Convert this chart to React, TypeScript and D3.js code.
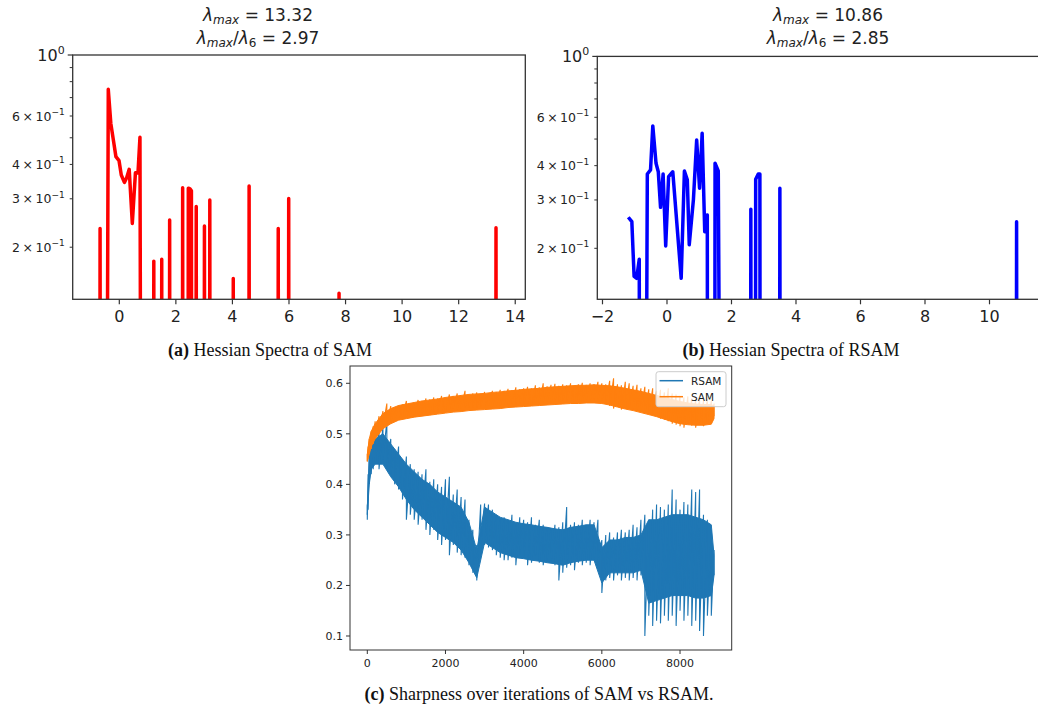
import React from 'react';
import * as d3 from 'd3';

// density below the plotted floor, the line drops out of the axes there
const TINY = 1e-4;

// (a) SAM Hessian spectrum, eigenvalue vs density
const samEig = [
  -0.71, -0.68, -0.65,
  -0.52, -0.39, -0.30, -0.21, -0.12, -0.01, 0.07, 0.18, 0.26, 0.35, 0.46, 0.57, 0.66, 0.73, 0.82,
  1.19, 1.22, 1.25, 1.47, 1.50, 1.53, 1.75, 1.78, 1.81,
  2.21, 2.24, 2.27, 2.41, 2.44, 2.50, 2.55, 2.58, 2.69, 2.72, 2.75,
  2.98, 3.01, 3.04, 3.17, 3.20, 3.23, 4.00, 4.03, 4.06, 4.56, 4.59, 4.62,
  5.59, 5.62, 5.65, 5.96, 5.99, 6.02, 7.74, 7.77, 7.80, 13.29, 13.32, 13.35,
];
const samDensity = [
  TINY, 0.234, TINY,
  TINY, 0.75, 0.564, 0.491, 0.427, 0.413, 0.366, 0.344, 0.358, 0.384, 0.244, 0.373, 0.372, 0.502, TINY,
  TINY, 0.178, TINY, TINY, 0.181, TINY, TINY, 0.251, TINY,
  TINY, 0.329, TINY, TINY, 0.328, 0.326, 0.321, TINY, TINY, 0.281, TINY,
  TINY, 0.239, TINY, TINY, 0.297, TINY, TINY, 0.154, TINY, TINY, 0.334, TINY,
  TINY, 0.234, TINY, TINY, 0.301, TINY, TINY, 0.136, TINY, TINY, 0.2355, TINY,
];

// (b) RSAM Hessian spectrum
const rsamEig = [
  -1.20, -1.09, -1.02, -0.94, -0.86, -0.82, -0.74, -0.61, -0.51, -0.44, -0.34, -0.27, -0.20, -0.12, -0.04,
  0.05, 0.18, 0.44, 0.54, 0.63, 0.69, 0.82, 0.92, 1.01, 1.09, 1.17, 1.25, 1.27,
  1.46, 1.49, 1.59, 1.76, 2.57, 2.60, 2.63, 2.72, 2.75, 2.83, 2.88, 2.91,
  3.47, 3.50, 3.53, 10.81, 10.84, 10.87,
];
const rsamDensity = [
  0.2595, 0.25, 0.158, 0.1555, 0.1824, TINY, TINY, 0.373, 0.386, 0.558, 0.408, 0.38, 0.282, 0.373, 0.204,
  0.365, 0.38, 0.1555, 0.3825, 0.355, 0.206, 0.3016, 0.496, 0.331, 0.525, 0.23, 0.2645, TINY,
  TINY, 0.408, 0.383, TINY, TINY, 0.2775, TINY, TINY, 0.3567, 0.373, 0.373, TINY,
  TINY, 0.331, TINY, TINY, 0.25, TINY,
];

const ticksA = [0, 2, 4, 6, 8, 10, 12, 14];
const ticksB = [-2, 0, 2, 4, 6, 8, 10];
const logMinor = [0.2, 0.3, 0.4, 0.5, 0.6, 0.7, 0.8, 0.9];
const logLabeled = [0.2, 0.3, 0.4, 0.6];

// (c) sharpness over iterations: spike extremes every ~100 its
const peakIter = [
  0, 20, 50, 100, 150, 200,
  300, 400, 500, 600, 700, 800, 900, 1000, 1100, 1200,
  1300, 1400, 1500, 1600, 1700, 1800, 1900, 2000, 2100, 2200,
  2300, 2400, 2500, 2600, 2700, 2800, 2900, 3000, 3100, 3200,
  3300, 3400, 3500, 3600, 3700, 3800, 3900, 4000, 4100, 4200,
  4300, 4400, 4500, 4600, 4700, 4800, 4900, 5000, 5100, 5200,
  5300, 5400, 5500, 5600, 5700, 5800, 5900, 6000, 6100, 6200,
  6300, 6400, 6500, 6600, 6700, 6800, 6900, 7000, 7100, 7200,
  7300, 7400, 7500, 7600, 7700, 7800, 7900, 8000, 8100, 8200,
  8300, 8400, 8500, 8600, 8700, 8800, 8870,
];
const samHi = [
  0.46, 0.475, 0.49, 0.505, 0.515, 0.525,
  0.535, 0.545, 0.56, 0.555, 0.552, 0.556, 0.558, 0.565, 0.56, 0.562,
  0.567, 0.565, 0.57, 0.568, 0.572, 0.57, 0.575, 0.572, 0.578, 0.575,
  0.58, 0.576, 0.585, 0.578, 0.58, 0.582, 0.579, 0.583, 0.58, 0.585,
  0.583, 0.587, 0.585, 0.589, 0.586, 0.592, 0.588, 0.59, 0.593, 0.59,
  0.596, 0.592, 0.6, 0.594, 0.597, 0.599, 0.595, 0.598, 0.596, 0.6,
  0.595, 0.598, 0.601, 0.597, 0.6, 0.598, 0.603, 0.6, 0.598, 0.605,
  0.61, 0.598, 0.596, 0.603, 0.6, 0.595, 0.597, 0.59, 0.593, 0.588,
  0.59, 0.585, 0.587, 0.582, 0.59, 0.58, 0.578, 0.575, 0.572, 0.574,
  0.57, 0.568, 0.57, 0.565, 0.568, 0.565, 0.56,
];
const samLo = [
  0.445, 0.45, 0.46, 0.47, 0.48, 0.49,
  0.505, 0.515, 0.52, 0.525, 0.53, 0.532, 0.535, 0.535, 0.537, 0.538,
  0.54, 0.54, 0.542, 0.543, 0.545, 0.545, 0.546, 0.548, 0.548, 0.55,
  0.549, 0.55, 0.552, 0.553, 0.552, 0.553, 0.555, 0.553, 0.556, 0.555,
  0.557, 0.556, 0.558, 0.557, 0.56, 0.558, 0.56, 0.559, 0.56, 0.556,
  0.562, 0.56, 0.562, 0.563, 0.56, 0.564, 0.562, 0.565, 0.563, 0.566,
  0.564, 0.565, 0.563, 0.566, 0.565, 0.567, 0.566, 0.565, 0.562, 0.555,
  0.55, 0.555, 0.548, 0.552, 0.55, 0.548, 0.546, 0.545, 0.54, 0.538,
  0.537, 0.535, 0.53, 0.528, 0.525, 0.52, 0.518, 0.515, 0.512, 0.52,
  0.516, 0.512, 0.518, 0.515, 0.52, 0.525, 0.535,
];
const rsamHi = [
  0.36, 0.42, 0.46, 0.48, 0.5, 0.49,
  0.51, 0.515, 0.525, 0.49, 0.47, 0.475, 0.45, 0.455, 0.44, 0.43,
  0.425, 0.42, 0.43, 0.405, 0.41, 0.4, 0.395, 0.41, 0.415, 0.38,
  0.39, 0.375, 0.37, 0.33, 0.31, 0.28, 0.36, 0.362, 0.36, 0.35,
  0.34, 0.33, 0.335, 0.33, 0.34, 0.32, 0.335, 0.33, 0.325, 0.335,
  0.32, 0.33, 0.32, 0.315, 0.31, 0.32, 0.315, 0.325, 0.355, 0.32,
  0.325, 0.32, 0.33, 0.32, 0.33, 0.325, 0.33, 0.29, 0.3, 0.305,
  0.295, 0.305, 0.31, 0.305, 0.31, 0.32, 0.315, 0.33, 0.34, 0.33,
  0.35, 0.36, 0.355, 0.35, 0.36, 0.39, 0.37, 0.35, 0.365, 0.36,
  0.39, 0.385, 0.39, 0.34, 0.33, 0.31, 0.27,
];
const rsamLo = [
  0.33, 0.35, 0.4, 0.42, 0.43, 0.44,
  0.43, 0.45, 0.43, 0.42, 0.4, 0.39, 0.37, 0.33, 0.34, 0.33,
  0.32, 0.33, 0.31, 0.3, 0.31, 0.29, 0.28, 0.29, 0.26, 0.28,
  0.265, 0.26, 0.255, 0.24, 0.225, 0.21, 0.27, 0.28, 0.275, 0.27,
  0.26, 0.255, 0.25, 0.25, 0.255, 0.24, 0.26, 0.255, 0.24, 0.245,
  0.26, 0.245, 0.24, 0.25, 0.245, 0.24, 0.21, 0.225, 0.235, 0.24,
  0.23, 0.245, 0.24, 0.245, 0.24, 0.25, 0.24, 0.185, 0.21, 0.215,
  0.21, 0.22, 0.21, 0.215, 0.21, 0.215, 0.21, 0.22, 0.1, 0.14,
  0.12, 0.13, 0.125, 0.14, 0.13, 0.14, 0.12, 0.15, 0.13, 0.14,
  0.12, 0.13, 0.11, 0.1, 0.14, 0.14, 0.22,
];

// dense core of each noisy band
const coreIter = [
  0, 50, 100,
  200, 400, 600, 800, 1000, 1200, 1400, 1600, 1800, 2000,
  2200, 2400, 2600, 2800, 3000, 3200, 3400, 3600, 3800, 4000,
  4200, 4400, 4600, 4800, 5000, 5200, 5400, 5600, 5800, 6000,
  6200, 6400, 6600, 6800, 7000, 7200, 7400, 7600, 7800, 8000,
  8200, 8400, 8600, 8800, 8870,
];
const samCoreLo = [
  0.447, 0.46, 0.475,
  0.49, 0.51, 0.52, 0.527, 0.53, 0.533, 0.535, 0.537, 0.539, 0.541,
  0.543, 0.544, 0.546, 0.547, 0.548, 0.549, 0.55, 0.552, 0.553, 0.554,
  0.555, 0.556, 0.557, 0.558, 0.559, 0.56, 0.56, 0.561, 0.561, 0.56,
  0.557, 0.553, 0.549, 0.546, 0.542, 0.538, 0.534, 0.529, 0.524, 0.52,
  0.518, 0.517, 0.517, 0.519, 0.53,
];
const samCoreHi = [
  0.46, 0.49, 0.505,
  0.52, 0.54, 0.55, 0.556, 0.559, 0.562, 0.565, 0.567, 0.569, 0.572,
  0.574, 0.576, 0.578, 0.579, 0.58, 0.582, 0.583, 0.585, 0.586, 0.588,
  0.589, 0.59, 0.592, 0.593, 0.594, 0.595, 0.596, 0.596, 0.597, 0.596,
  0.595, 0.593, 0.59, 0.587, 0.584, 0.58, 0.576, 0.572, 0.568, 0.564,
  0.561, 0.559, 0.558, 0.558, 0.555,
];
const rsamCoreLo = [
  0.34, 0.4, 0.43,
  0.44, 0.44, 0.415, 0.395, 0.37, 0.35, 0.335, 0.32, 0.305, 0.295,
  0.285, 0.27, 0.245, 0.215, 0.285, 0.275, 0.265, 0.26, 0.255, 0.253,
  0.25, 0.248, 0.245, 0.243, 0.24, 0.245, 0.248, 0.25, 0.25, 0.205,
  0.225, 0.225, 0.225, 0.225, 0.23, 0.165, 0.17, 0.175, 0.18, 0.18,
  0.18, 0.175, 0.175, 0.18, 0.22,
];
const rsamCoreHi = [
  0.355, 0.45, 0.475,
  0.49, 0.5, 0.48, 0.46, 0.44, 0.425, 0.41, 0.4, 0.385, 0.375,
  0.365, 0.355, 0.325, 0.27, 0.355, 0.345, 0.335, 0.33, 0.325, 0.322,
  0.32, 0.317, 0.315, 0.312, 0.31, 0.315, 0.317, 0.32, 0.32, 0.275,
  0.29, 0.29, 0.295, 0.295, 0.3, 0.33, 0.33, 0.335, 0.34, 0.34,
  0.34, 0.335, 0.33, 0.32, 0.26,
];

const iterTicks = [0, 2000, 4000, 6000, 8000];
const sharpTicks = [0.1, 0.2, 0.3, 0.4, 0.5, 0.6];
const legendNames = ['RSAM', 'SAM'];
const C_RSAM = '#1f77b4';
const C_SAM = '#ff7f0e';

const FONT = "'DejaVu Sans', sans-serif";
const SERIF = "'Liberation Serif', 'Times New Roman', serif";
const INK = '#222';

function LambdaTitle({ cx, lmax, ratio }: { cx: number; lmax: string; ratio: string }) {
  return (
    <g fontFamily={FONT} fontSize={17} fill={INK}>
      <text x={cx} y={20.7} textAnchor="middle">
        <tspan fontStyle="italic">λ</tspan>
        <tspan fontStyle="italic" fontSize={12} dy={3}>max</tspan>
        <tspan dy={-3}>{' = ' + lmax}</tspan>
      </text>
      <text x={cx} y={44} textAnchor="middle">
        <tspan fontStyle="italic">λ</tspan>
        <tspan fontStyle="italic" fontSize={12} dy={3}>max</tspan>
        <tspan dy={-3}>/</tspan>
        <tspan fontStyle="italic">λ</tspan>
        <tspan fontSize={12} dy={3}>6</tspan>
        <tspan dy={-3}>{' = ' + ratio}</tspan>
      </text>
    </g>
  );
}

type SpecProps = {
  id: string; left: number; right: number; top: number; bottom: number;
  xDomain: [number, number]; yDomain: [number, number];
  xs: number[]; ys: number[]; color: string; xTicks: number[];
};

function SpectrumPanel(p: SpecProps) {
  const x = d3.scaleLinear().domain(p.xDomain).range([p.left, p.right]);
  const y = d3.scaleLog().domain(p.yDomain).range([p.bottom, p.top]);
  const pts = p.xs.map((v, i) => [v, p.ys[i]] as [number, number]);
  const line = d3.line<[number, number]>().x(d => x(d[0])).y(d => y(d[1]));
  return (
    <g>
      <defs>
        <clipPath id={p.id}>
          <rect x={p.left} y={p.top} width={p.right - p.left} height={p.bottom - p.top} />
        </clipPath>
      </defs>
      <path d={line(pts) || ''} fill="none" stroke={p.color} strokeWidth={3.5}
        strokeLinejoin="round" clipPath={`url(#${p.id})`} />
      <rect x={p.left} y={p.top} width={p.right - p.left} height={p.bottom - p.top}
        fill="none" stroke="#333" strokeWidth={1.3} />
      {p.xTicks.map(t => (
        <g key={t}>
          <line x1={x(t)} x2={x(t)} y1={p.bottom} y2={p.bottom + 5} stroke="#333" strokeWidth={1.2} />
          <text x={x(t)} y={p.bottom + 22.5} textAnchor="middle" fontFamily={FONT} fontSize={16} fill={INK}>
            {t < 0 ? '\u2212' + Math.abs(t) : t}
          </text>
        </g>
      ))}
      <line x1={p.left - 5} x2={p.left} y1={y(1)} y2={y(1)} stroke="#333" strokeWidth={1.2} />
      <text x={p.left - 8} y={y(1) + 6} textAnchor="end" fontFamily={FONT} fontSize={16} fill={INK}>
        10<tspan fontSize={11} dy={-7}>0</tspan>
      </text>
      {logMinor.map(t => (
        <line key={t} x1={p.left - 3} x2={p.left} y1={y(t)} y2={y(t)} stroke="#333" strokeWidth={1} />
      ))}
      {logLabeled.map(t => (
        <text key={t} x={p.left - 8} y={y(t) + 4.5} textAnchor="end" fontFamily={FONT} fontSize={12.5} fill={INK}>
          {Math.round(t * 10) + '\u2009×\u200910'}
          <tspan fontSize={9} dy={-5.5}>{'\u22121'}</tspan>
        </text>
      ))}
    </g>
  );
}

function SharpnessPanel() {
  const left = 350, right = 731.7, top = 366, bottom = 650;
  const x = d3.scaleLinear().domain([-442.6, 9322]).range([left, right]);
  const y = d3.scaleLinear().domain([0.0723, 0.6342]).range([bottom, top]);
  const core = d3.area<number>().x(d => x(coreIter[d]));
  const zig = d3.line<[number, number]>().x(d => x(d[0])).y(d => y(d[1]));
  const band = (lo: number[], hi: number[]) =>
    core.y0(d => y(lo[d])).y1(d => y(hi[d]))(coreIter.map((_, i) => i)) || '';
  const spikes = (lo: number[], hi: number[]) => {
    const pts: [number, number][] = [];
    peakIter.forEach((it, i) => { pts.push([it, hi[i]]); pts.push([it, lo[i]]); });
    return zig(pts) || '';
  };
  const series = [
    { lo: rsamLo, hi: rsamHi, clo: rsamCoreLo, chi: rsamCoreHi, color: C_RSAM },
    { lo: samLo, hi: samHi, clo: samCoreLo, chi: samCoreHi, color: C_SAM },
  ];
  const lx = 656, ly = 371.7, lw = 70, lh = 35;
  return (
    <g>
      {series.map(s => (
        <g key={s.color}>
          <path d={band(s.clo, s.chi)} fill={s.color} stroke={s.color} strokeWidth={1} />
          <path d={spikes(s.lo, s.hi)} fill="none" stroke={s.color} strokeWidth={1.1} />
        </g>
      ))}
      <rect x={left} y={top} width={right - left} height={bottom - top} fill="none" stroke="#333" strokeWidth={1} />
      {iterTicks.map(t => (
        <g key={t}>
          <line x1={x(t)} x2={x(t)} y1={bottom} y2={bottom + 4} stroke="#333" />
          <text x={x(t)} y={bottom + 16.5} textAnchor="middle" fontFamily={FONT} fontSize={11} fill={INK}>{t}</text>
        </g>
      ))}
      {sharpTicks.map(t => (
        <g key={t}>
          <line x1={left - 4} x2={left} y1={y(t)} y2={y(t)} stroke="#333" />
          <text x={left - 7} y={y(t) + 4} textAnchor="end" fontFamily={FONT} fontSize={11} fill={INK}>{t.toFixed(1)}</text>
        </g>
      ))}
      <rect x={lx} y={ly} width={lw} height={lh} rx={2.5} fill="#fff" fillOpacity={0.8} stroke="#ccc" strokeWidth={1} />
      {legendNames.map((n, i) => (
        <g key={n}>
          <line x1={lx + 3.5} x2={lx + 27} y1={ly + 9 + i * 16} y2={ly + 9 + i * 16}
            stroke={i === 0 ? C_RSAM : C_SAM} strokeWidth={1.5} />
          <text x={lx + 35} y={ly + 12.8 + i * 16} fontFamily={FONT} fontSize={10.5} fill={INK}>{n}</text>
        </g>
      ))}
    </g>
  );
}

function Caption({ x, y, tag, text }: { x: number; y: number; tag: string; text: string }) {
  return (
    <text x={x} y={y} textAnchor="middle" fontFamily={SERIF} fontSize={18} fill="#111">
      <tspan fontWeight="bold">{tag}</tspan>{' ' + text}
    </text>
  );
}

export default function App() {
  return (
    <svg width={1038} height={708} style={{ position: 'absolute', left: 0, top: 0, background: '#fff' }}>
      <rect width={1038} height={708} fill="#fff" />
      <LambdaTitle cx={258} lmax="13.32" ratio="2.97" />
      <SpectrumPanel id="clipA" left={72.7} right={525.3} top={55} bottom={299.3}
        xDomain={[-1.648, 14.356]} yDomain={[0.1293, 1]} xs={samEig} ys={samDensity}
        color="#ff0000" xTicks={ticksA} />
      <LambdaTitle cx={828} lmax="10.86" ratio="2.85" />
      <SpectrumPanel id="clipB" left={597.3} right={1050} top={56.4} bottom={299.3}
        xDomain={[-2.161, 11.876]} yDomain={[0.1304, 1]} xs={rsamEig} ys={rsamDensity}
        color="#0000ff" xTicks={ticksB} />
      <Caption x={270} y={356} tag="(a)" text="Hessian Spectra of SAM" />
      <Caption x={791} y={356} tag="(b)" text="Hessian Spectra of RSAM" />
      <SharpnessPanel />
      <Caption x={539} y={700} tag="(c)" text="Sharpness over iterations of SAM vs RSAM." />
    </svg>
  );
}
